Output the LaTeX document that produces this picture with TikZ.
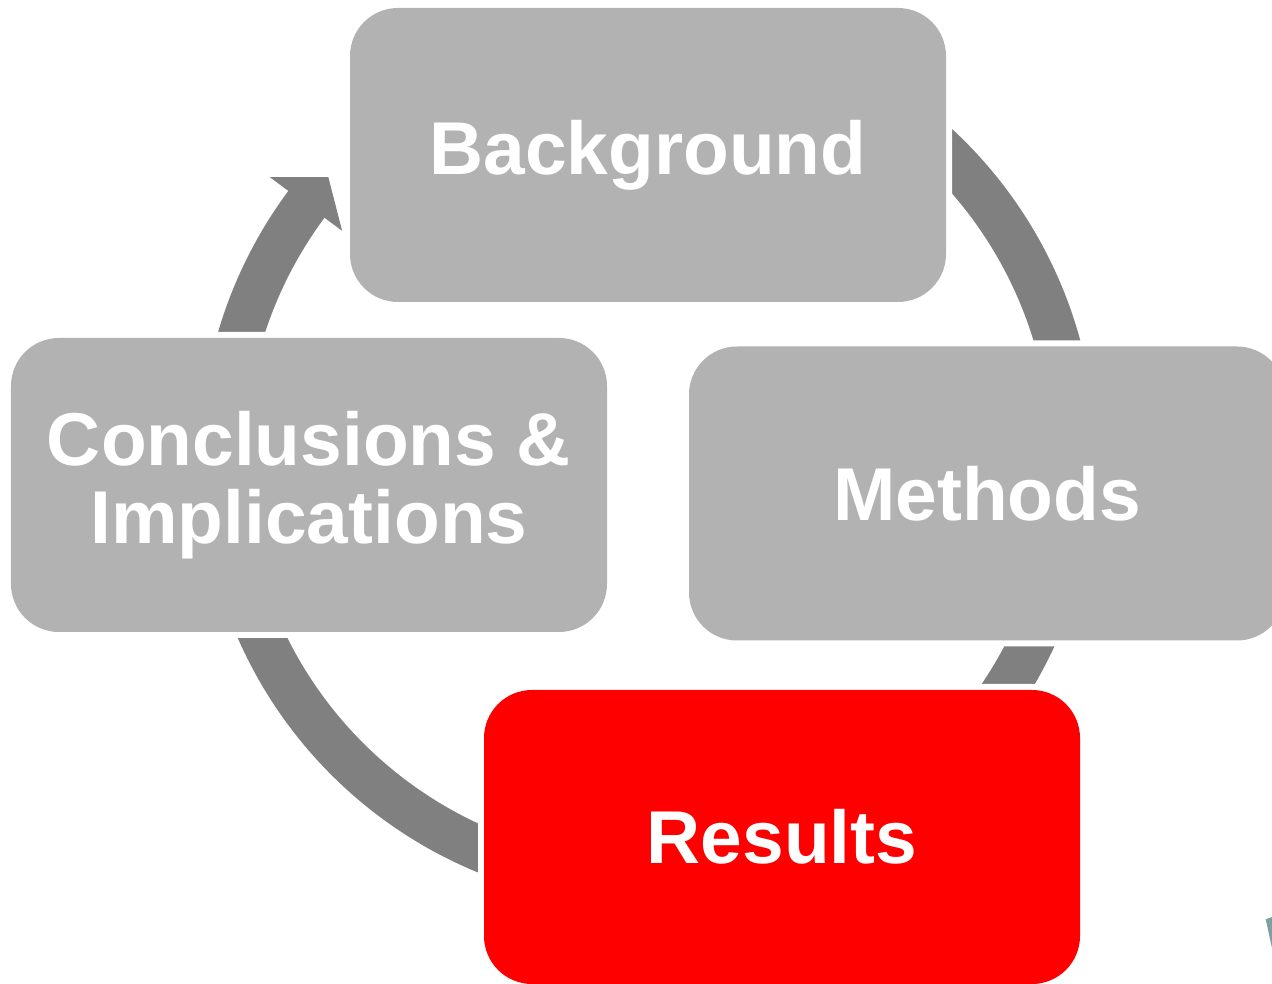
\documentclass[tikz,border=0pt]{standalone}
\usepackage{fontspec}
\setmainfont{Liberation Sans}
\definecolor{edgeteal}{RGB}{125,160,160}
\begin{document}
\begin{tikzpicture}[join=round]
    \tikzstyle{stagefill} = [fill=black!30]
    \tikzstyle{arcfill} = [fill=black!50]
    \tikzstyle{stage} = [stagefill,rounded corners=.48cm,minimum width=5.96cm,
                         minimum height=2.94cm,inner sep=0pt,align=center,
                         text=white,font=\fontsize{21.3}{22.2}\selectfont\bfseries,
                         preaction={draw=white,line width=.12cm}]
    \useasboundingbox (0,0) rectangle (12.72,9.84);
    \clip (0,0) rectangle (12.72,9.84);
    \coordinate (c) at (6.48,5.26);
    \begin{scope}[shift={(c)}]
    \fill[arcfill](185:4.48) arc[start angle=185,end angle=143.4,radius=4.48]
                  --(143.4:4.71)--(138.7:4.255)--(143.4:3.81)--(143.4:4.03)
                  arc[start angle=143.4,end angle=185,radius=4.03]--cycle;
    \fill[arcfill](60:4.48) arc[start angle=60,end angle=5,radius=4.48]
                  --(5:4.03) arc[start angle=5,end angle=60,radius=4.03]--cycle;
    \fill[arcfill](-15:4.48) arc[start angle=-15,end angle=-45,radius=4.48]
                  --(-45:4.03) arc[start angle=-45,end angle=-15,radius=4.03]--cycle;
    \fill[arcfill](-105:4.48) arc[start angle=-105,end angle=-160,radius=4.48]
                  --(-160:4.03) arc[start angle=-160,end angle=-105,radius=4.03]--cycle;
    \end{scope}
    \node[stage] (background) at (6.48,8.29) {Background};
    \node[stage] (methods) at (9.87,4.905) {Methods};
    \node[stage,fill=red] (results) at (7.82,1.47) {Results};
    \node[stage] (conclusions) at (3.09,4.99) {Conclusions \&\\Implications};
    \fill[edgeteal](12.657,.647)--(12.72,.67)--(12.72,.36)--cycle;
\end{tikzpicture}
\end{document}
